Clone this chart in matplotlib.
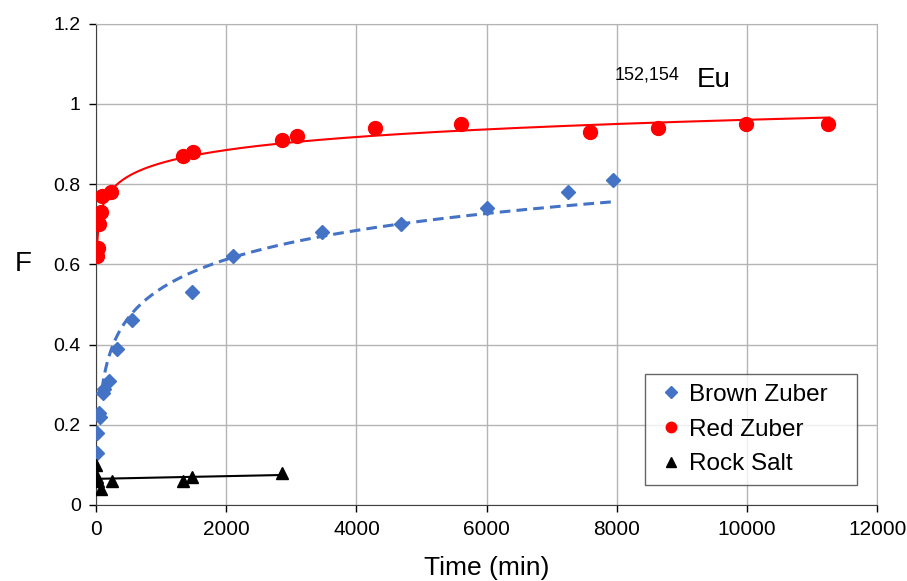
import matplotlib
matplotlib.use("Agg")
import matplotlib.pyplot as plt
import numpy as np

plt.rcParams["font.family"] = ["Liberation Sans", "DejaVu Sans"]

# Brown Zuber sorption data (time in min, fraction F)
brown_t = [10, 20, 50, 60, 100, 120, 190, 318, 558, 1475, 2100, 3465, 4680, 6000, 7257, 7949]
brown_f = [0.13, 0.18, 0.23, 0.22, 0.28, 0.29, 0.31, 0.39, 0.46, 0.53, 0.62, 0.68, 0.70, 0.74, 0.78, 0.81]

# Red Zuber
red_t = [10, 30, 15, 50, 80, 90, 230, 1342, 1485, 2863, 3094, 4287, 5604, 7591, 8640, 9988, 11253]
red_f = [0.62, 0.64, 0.70, 0.70, 0.73, 0.77, 0.78, 0.87, 0.88, 0.91, 0.92, 0.94, 0.95, 0.93, 0.94, 0.95, 0.95]

# Rock Salt
salt_t = [5, 10, 30, 70, 240, 1330, 1480, 2860]
salt_f = [0.10, 0.07, 0.06, 0.04, 0.06, 0.06, 0.07, 0.08]

x_ticks = [0, 2000, 4000, 6000, 8000, 10000, 12000]
y_ticks = [0, 0.2, 0.4, 0.6, 0.8, 1.0, 1.2]
y_labels = ["0", "0.2", "0.4", "0.6", "0.8", "1", "1.2"]


def log_trend(t, f, t0, t1):
    a, b = np.polyfit(np.log(t), f, 1)
    tt = np.linspace(t0, t1, 400)
    return tt, a * np.log(tt) + b


fig = plt.figure(figsize=(9.07, 5.81), dpi=100)
ax = fig.add_axes([0.106, 0.131, 0.861, 0.828])

# trend lines
tt, ff = log_trend(brown_t, brown_f, 90, 7914)
ax.plot(tt, ff, color="#4472c4", lw=2.2, ls=(0, (3.5, 2)), zorder=3)
tt, ff = log_trend(red_t, red_f, 10, 11268)
ax.plot(tt, ff, color="#ff0000", lw=1.5, zorder=3)
k, c = np.polyfit(salt_t, salt_f, 1)
ts = np.array([0, max(salt_t)])
ax.plot(ts, k * ts + c, color="black", lw=1.5, zorder=3)

ax.plot(brown_t, brown_f, ls="none", marker="D", ms=7.5, color="#4472c4",
        label="Brown Zuber", zorder=4)
ax.plot(red_t, red_f, ls="none", marker="o", ms=10, color="#ff0000",
        label="Red Zuber", zorder=4)
ax.plot(salt_t, salt_f, ls="none", marker="^", ms=9, color="black",
        label="Rock Salt", zorder=4)

ax.set_xlim(0, 12000)
ax.set_ylim(0, 1.2)
ax.set_xticks(x_ticks)
ax.set_yticks(y_ticks)
ax.set_yticklabels(y_labels)
ax.tick_params(labelsize=14, length=5, width=1, pad=6)
ax.tick_params(axis="x", labelsize=15)
ax.grid(True, color="#b4b4b4", lw=1)
ax.set_axisbelow(True)
for s in ("top", "right"):
    ax.spines[s].set_color("#b4b4b4")
for s in ("left", "bottom"):
    ax.spines[s].set_color("#404040")

ax.set_xlabel("Time (min)", fontsize=19, labelpad=12)
ax.set_ylabel("F", fontsize=20, rotation=0, labelpad=22, va="center")

ax.text(7960, 1.06, "152,154", fontsize=13, ha="left", va="baseline")
ax.text(9235, 1.043, "Eu", fontsize=20, ha="left", va="baseline")

leg = ax.legend(loc="lower left", bbox_to_anchor=(0.703, 0.0416, 0.271, 0.228),
                mode="expand", fontsize=17.5,
                frameon=True, fancybox=False, edgecolor="#404040",
                handlelength=1.3, handletextpad=0.1, borderpad=0.4,
                labelspacing=0.52, markerscale=0.75, borderaxespad=0)
leg.get_frame().set_linewidth(1)

fig.savefig("out.png", dpi=100)
